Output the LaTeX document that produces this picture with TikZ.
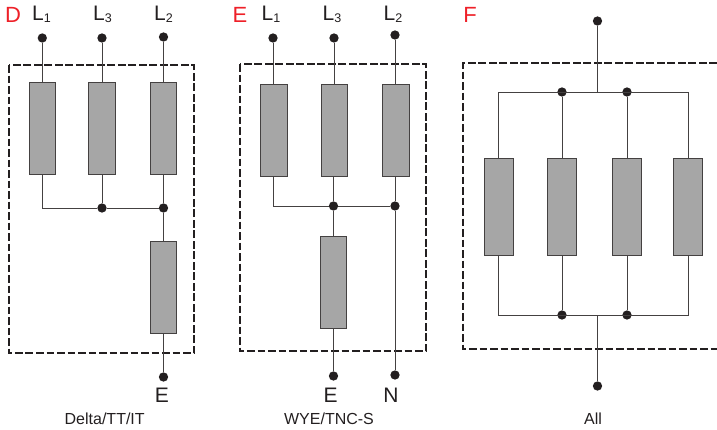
\documentclass[tikz,border=0pt]{standalone}
\usepackage{fontspec}
\setmainfont{Liberation Sans}
\definecolor{resfill}{HTML}{A6A6A6}
\definecolor{inkc}{HTML}{231F20}
\definecolor{redc}{HTML}{EE2028}
\tikzset{
  res/.style={draw=inkc!85,line width=1pt,fill=resfill,inner sep=0pt,minimum width=#1},
  res/.default=26.5pt,
  dot/.style={circle,fill=inkc,draw=none,inner sep=0pt,minimum size=9.3pt},
  wire/.style={draw=inkc!85,line width=1pt},
  encl/.style={draw=inkc,line width=1.15pt,dash pattern=on 7.8pt off 2.7pt},
  tag/.style={text=redc,font=\fontsize{22}{22}\selectfont,inner sep=0pt,anchor=base},
  term/.style={text=inkc,font=\fontsize{21}{21}\selectfont,inner sep=0pt,anchor=base},
  captext/.style={text=inkc,font=\fontsize{16}{16}\selectfont,inner sep=0pt,anchor=base}
}
\newcommand{\subn}[1]{\raisebox{-0.1em}{\fontsize{12.5}{12.5}\selectfont #1}}
\begin{document}
\begin{tikzpicture}[x=1pt,y=-1pt]
\useasboundingbox (0,0) rectangle (717,429);
% enclosures
\draw[encl] (9,65) rectangle (194,353);
\draw[encl] (240,64) rectangle (426,351);
\draw[encl] (717,63) -- (463,63) -- (463,349) -- (717,349);
% Panel D
\node[res,minimum height=92pt] (d1) at (42.3,128) {};
\node[res,minimum height=92pt] (d3) at (102,128) {};
\node[res,minimum height=92pt] (d2) at (163.5,128) {};
\node[res,minimum height=92pt] (d4) at (163.5,287) {};
\node[dot] (dl1) at (42.3,38) {};
\node[dot] (dl3) at (102,38) {};
\node[dot] (dl2) at (163.5,37) {};
\node[dot] (dj1) at (102,208) {};
\node[dot] (dj2) at (163.5,208) {};
\node[dot] (de) at (163.5,377) {};
\coordinate (dc) at (42.3,208);
\draw[wire] (dl1) -- (d1);
\draw[wire] (dl3) -- (d3);
\draw[wire] (dl2) -- (d2);
\draw[wire] (d1) -- (dc) -- (dj1) -- (dj2);
\draw[wire] (d3) -- (dj1);
\draw[wire] (d2) -- (dj2) -- (d4) -- (de);
% Panel E
\node[res,minimum height=92pt] (e1) at (274,130) {};
\node[res,minimum height=92pt] (e3) at (334.5,130) {};
\node[res,minimum height=92pt] (e2) at (396,130) {};
\node[res,minimum height=92pt] (e4) at (333.5,282) {};
\node[dot] (el1) at (273,38) {};
\node[dot] (el3) at (334,38) {};
\node[dot] (el2) at (395,35) {};
\node[dot] (ej1) at (333.5,206) {};
\node[dot] (ej2) at (395,206) {};
\node[dot] (ee) at (333.5,376) {};
\node[dot] (en) at (395,375) {};
\coordinate (ec) at (273,206);
\draw[wire] (el1) -- (el1 |- e1.north);
\draw[wire] (el3) -- (el3 |- e3.north);
\draw[wire] (el2) -- (el2 |- e2.north);
\draw[wire] (ec |- e1.south) -- (ec) -- (ej1) -- (ej2);
\draw[wire] (ej1 |- e3.south) -- (ej1);
\draw[wire] (ej2 |- e2.south) -- (ej2);
\draw[wire] (ej1) -- (e4) -- (ee);
\draw[wire] (ej2) -- (en);
% Panel F
\node[res=29pt,minimum height=97pt] (f1) at (498.5,206.5) {};
\node[res=29pt,minimum height=97pt] (f2) at (562,206.5) {};
\node[res=29pt,minimum height=97pt] (f3) at (627,206.5) {};
\node[res=29pt,minimum height=97pt] (f4) at (688,206.5) {};
\node[dot] (ft) at (597.5,21) {};
\node[dot] (fb) at (597.5,386) {};
\node[dot] (fa2) at (562,92) {};
\node[dot] (fa3) at (627,92) {};
\node[dot] (fc2) at (562,315) {};
\node[dot] (fc3) at (627,315) {};
\coordinate (fa1) at (498,92);
\coordinate (fa4) at (688,92);
\coordinate (fc1) at (498,315);
\coordinate (fc4) at (688,315);
\coordinate (fam) at (597.5,92);
\coordinate (fcm) at (597.5,315);
\draw[wire] (ft) -- (fam);
\draw[wire] (fb) -- (fcm);
\draw[wire] (f1.north) -- (fa1 -| f1.north) -- (fa4 -| f4.north) -- (f4.north);
\draw[wire] (f1.south) -- (fc1 -| f1.south) -- (fc4 -| f4.south) -- (f4.south);
\draw[wire] (fa2) -- (f2);
\draw[wire] (fa3) -- (f3);
\draw[wire] (f2) -- (fc2);
\draw[wire] (f3) -- (fc3);
% labels
\node[tag] (td) at (13,22.7) {D};
\node[tag] (te) at (240,22.7) {E};
\node[tag] (tf) at (470,22.7) {F};
\node[term] (ld1) at (41.5,20.7) {L\subn{1}};
\node[term] (ld3) at (102.5,20.7) {L\subn{3}};
\node[term] (ld2) at (163.5,20.7) {L\subn{2}};
\node[term] (le1) at (271,20.7) {L\subn{1}};
\node[term] (le3) at (332,20.7) {L\subn{3}};
\node[term] (le2) at (393,20.7) {L\subn{2}};
\node[term] (te1) at (162,402.7) {E};
\node[term] (te2) at (330.5,402.7) {E};
\node[term] (tn) at (391,402.7) {N};
\node[captext] (c1) at (104.7,424) {Delta/TT/IT};
\node[captext] (c2) at (329,424) {WYE/TNC-S};
\node[captext] (c3) at (593,424) {All};
\end{tikzpicture}
\end{document}
